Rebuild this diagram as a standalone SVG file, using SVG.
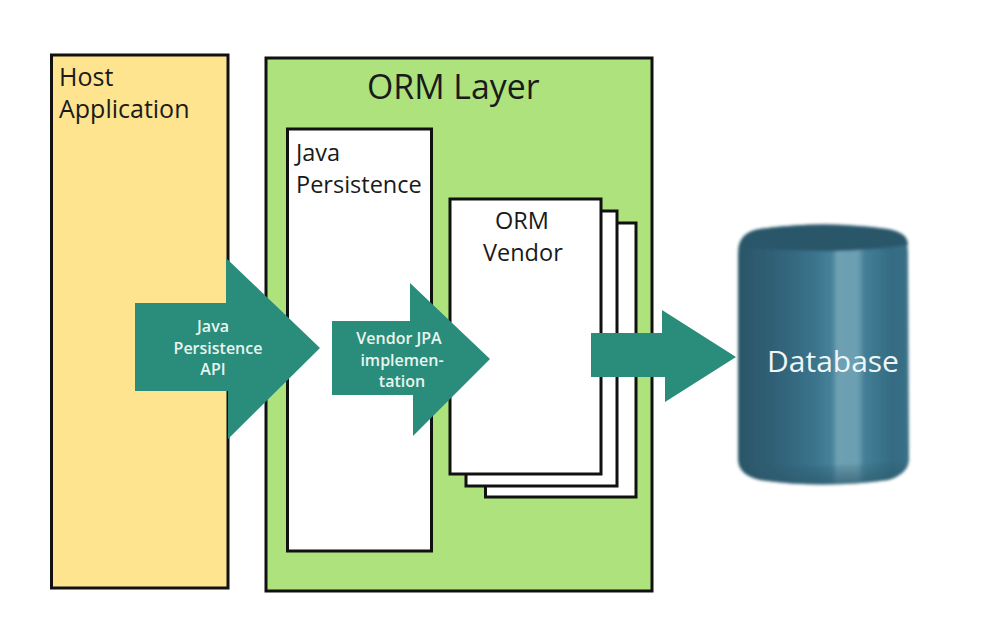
<svg xmlns="http://www.w3.org/2000/svg" width="991" height="631" viewBox="0 0 991 631">
<style>
.box{stroke:#111;stroke-width:3}
.t{font-family:"Open Sans","Noto Sans","Liberation Sans",sans-serif;fill:#1a1a1a;font-size:25px}
.s{font-size:23.500px}
.w{font-family:"Open Sans","Noto Sans","Liberation Sans",sans-serif;fill:#e8f5ef;font-size:16px;font-weight:600;text-anchor:middle}
.arrow{fill:#2a8c7b}
</style>
<defs>
<linearGradient id="body" x1="0" x2="1" y1="0" y2="0">
<stop offset="0" stop-color="#2b5668"/><stop offset="0.2" stop-color="#2f5f75"/><stop offset="0.45" stop-color="#3a748c"/><stop offset="0.55" stop-color="#468299"/><stop offset="0.58" stop-color="#6da0b3"/><stop offset="0.7" stop-color="#6c9fb2"/><stop offset="0.74" stop-color="#437f96"/><stop offset="0.9" stop-color="#336b82"/><stop offset="1" stop-color="#3a7087"/>
</linearGradient>
<linearGradient id="foot" x1="0" x2="0" y1="0" y2="1">
<stop offset="0" stop-color="#2b5668" stop-opacity="0"/><stop offset="1" stop-color="#2b5668" stop-opacity="0.7"/>
</linearGradient>
<filter id="soft" x="-5%" y="-5%" width="110%" height="110%"><feGaussianBlur stdDeviation="1.500"/></filter>
</defs>
<rect width="991" height="631" fill="#fff"/>
<g id="host"><rect class="box" x="51.500" y="55" width="176.500" height="533" fill="#fee48f"/><text class="t" x="59" y="86">Host</text><text class="t" x="59" y="118">Application</text></g>
<g id="orm-layer"><rect class="box" x="266" y="58" width="386" height="533" fill="#ade27c"/><text class="t" x="367" y="99" style="font-size:33.800px">ORM Layer</text></g>
<g id="java-persistence"><rect class="box" x="287.500" y="129" width="144" height="422" fill="#fff"/><text class="t s" x="296" y="161">Java</text><text class="t s" x="296" y="193">Persistence</text></g>
<g id="orm-vendor">
<rect class="box" x="485.500" y="223" width="150.500" height="274" fill="#fff"/>
<rect class="box" x="466" y="211" width="151" height="275" fill="#fff"/>
<rect class="box" x="450" y="199" width="151" height="275" fill="#fff"/>
<text class="t s" x="495" y="229">ORM</text><text class="t s" x="483" y="261">Vendor</text></g>
<g id="database">
<g filter="url(#soft)">
<path d="M738 255Q738 232 760 229Q823 220 887 229Q908 232 908 252L909 460Q908 474 888 480Q823 489 760 480Q739 475 738 460Z" fill="url(#body)"/>
<path d="M738 462Q739 475 760 480Q823 489 888 480Q908 474 909 460Q823 470 738 462Z" fill="url(#foot)"/>
<path d="M738 253Q738 232 760 229Q823 220 887 229Q908 232 908 245Q860 252 823 251Q780 251 738 247Z" fill="#2b566a"/>
</g>
<text x="767" y="372" style="font-family:'Open Sans','Noto Sans',sans-serif;font-size:30px;fill:#eef6f7">Database</text></g>
<g id="connectors">
<path class="arrow" d="M135 303H226V258L320 348L228 439V391H135Z"/>
<path class="arrow" d="M332 321H410V283L490 359L413 436V395H332Z"/>
<path class="arrow" d="M591 333H662V310L736 357L665 402V377H591Z"/>
<text class="w" x="213" y="332">Java</text><text class="w" x="218" y="354">Persistence</text><text class="w" x="213" y="375">API</text>
<text class="w" x="399" y="344">Vendor JPA</text><text class="w" x="402" y="366">implemen-</text><text class="w" x="402" y="387">tation</text>
</g>
</svg>
